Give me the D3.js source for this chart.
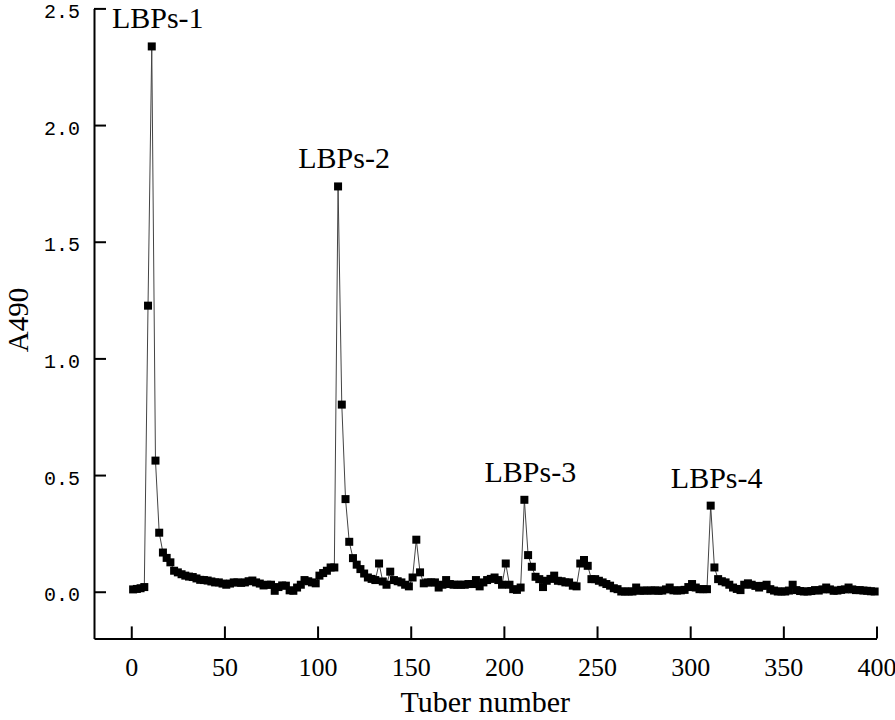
<!DOCTYPE html>
<html>
<head>
<meta charset="utf-8">
<script src="https://cdn.jsdelivr.net/npm/d3@7"></script>
<style>
	body { margin: 0; background: #fff; }
	svg { display: block; }
</style>
</head>
<body>
<div id="chart"></div>
<script>
(function() {

// tube numbers (x) and A490 readings (y)
const tubes = [
	1, 3, 5, 7, 9, 11, 13, 15, 17, 19, 21, 23, 25, 27, 29, 31, 33, 35, 37, 39,
	41, 43, 45, 47, 49, 51, 53, 55, 57, 59, 61, 63, 65, 67, 69, 71, 73, 75, 77, 79,
	81, 83, 85, 87, 89, 91, 93, 95, 97, 99, 101, 103, 105, 107, 109, 111, 113, 115, 117, 119,
	121, 123, 125, 127, 129, 131, 133, 135, 137, 139, 141, 143, 145, 147, 149, 151, 153, 155, 157, 159,
	161, 163, 165, 167, 169, 171, 173, 175, 177, 179, 181, 183, 185, 187, 189, 191, 193, 195, 197, 199,
	201, 203, 205, 207, 209, 211, 213, 215, 217, 219, 221, 223, 225, 227, 229, 231, 233, 235, 237, 239,
	241, 243, 245, 247, 249, 251, 253, 255, 257, 259, 261, 263, 265, 267, 269, 271, 273, 275, 277, 279,
	281, 283, 285, 287, 289, 291, 293, 295, 297, 299, 301, 303, 305, 307, 309, 311, 313, 315, 317, 319,
	321, 323, 325, 327, 329, 331, 333, 335, 337, 339, 341, 343, 345, 347, 349, 351, 353, 355, 357, 359,
	361, 363, 365, 367, 369, 371, 373, 375, 377, 379, 381, 383, 385, 387, 389, 391, 393, 395, 397, 399
];

const a490 = [
	0.010, 0.012, 0.015, 0.020, 1.226, 2.337, 0.562, 0.253, 0.168, 0.145, 0.126, 0.090, 0.083, 0.075, 0.069, 0.065, 0.063, 0.057, 0.051, 0.050,
	0.048, 0.044, 0.040, 0.040, 0.035, 0.030, 0.035, 0.040, 0.040, 0.038, 0.040, 0.045, 0.048, 0.040, 0.035, 0.027, 0.030, 0.030, 0.004, 0.020,
	0.027, 0.026, 0.006, 0.004, 0.018, 0.030, 0.050, 0.045, 0.040, 0.036, 0.069, 0.080, 0.090, 0.104, 0.104, 1.737, 0.802, 0.397, 0.214, 0.144,
	0.116, 0.097, 0.078, 0.061, 0.055, 0.050, 0.121, 0.044, 0.030, 0.086, 0.050, 0.045, 0.040, 0.030, 0.023, 0.061, 0.223, 0.083, 0.036, 0.040,
	0.040, 0.040, 0.018, 0.030, 0.050, 0.033, 0.030, 0.030, 0.030, 0.030, 0.033, 0.033, 0.050, 0.023, 0.040, 0.050, 0.055, 0.061, 0.050, 0.030,
	0.121, 0.030, 0.011, 0.008, 0.018, 0.394, 0.157, 0.107, 0.064, 0.054, 0.020, 0.047, 0.055, 0.069, 0.047, 0.045, 0.040, 0.040, 0.026, 0.023,
	0.121, 0.136, 0.111, 0.054, 0.054, 0.047, 0.040, 0.033, 0.026, 0.015, 0.011, 0.001, 0.001, 0.001, 0.001, 0.018, 0.004, 0.005, 0.005, 0.005,
	0.006, 0.004, 0.005, 0.010, 0.018, 0.006, 0.005, 0.006, 0.008, 0.020, 0.033, 0.018, 0.011, 0.011, 0.011, 0.369, 0.104, 0.054, 0.045, 0.040,
	0.030, 0.018, 0.012, 0.007, 0.030, 0.036, 0.030, 0.025, 0.018, 0.025, 0.030, 0.011, 0.005, 0.001, 0.001, 0.001, 0.005, 0.030, 0.007, 0.003,
	0.001, 0.001, 0.003, 0.007, 0.005, 0.010, 0.018, 0.010, 0.004, 0.005, 0.008, 0.010, 0.018, 0.010, 0.007, 0.007, 0.005, 0.004, 0.002, 0.001
];

// peak annotations
const peakNames = ["LBPs-1", "LBPs-2", "LBPs-3", "LBPs-4"];
const peakTubes = [11, 111, 211, 311];

const xTicks = [0, 50, 100, 150, 200, 250, 300, 350, 400];
const yTicks = [0, 0.5, 1.0, 1.5, 2.0, 2.5];

var width = 895, height = 720;
var margin = {top: 8.4, right: 18.5, bottom: 81.6, left: 94};

const svg = d3.select("div#chart").append("svg")
	.attr("width", width)
	.attr("height", height);

const x = d3.scaleLinear()
	.domain([-20, 400])
	.range([margin.left, width - margin.right]);

const y = d3.scaleLinear()
	.domain([-0.2, 2.5])
	.range([height - margin.bottom, margin.top]);

var data = tubes.map(function(t, i) { return {tube: t, value: a490[i]}; });

// x axis, ticks pointing inward
const xAxis = svg.append("g")
	.attr("transform", "translate(0," + (height - margin.bottom) + ")")
	.call(d3.axisBottom(x).tickValues(xTicks).tickSize(-12).tickSizeOuter(0).tickPadding(19.5));

xAxis.select(".domain").attr("stroke-width", 2);
xAxis.selectAll(".tick line").attr("stroke-width", 2);
xAxis.selectAll(".tick text")
	.attr("font-family", "'Liberation Serif', 'Times New Roman', serif")
	.attr("font-size", "26px")
	.attr("fill", "#000");

// y axis
const yAxis = svg.append("g")
	.attr("transform", "translate(" + margin.left + ",0)")
	.call(d3.axisLeft(y).tickValues(yTicks).tickSize(-12).tickSizeOuter(0).tickPadding(14).tickFormat(d3.format(".1f")));

yAxis.select(".domain").attr("stroke-width", 2);
yAxis.selectAll(".tick line").attr("stroke-width", 2);
yAxis.selectAll(".tick text")
	.attr("dy", "0.45em")
	.attr("font-family", "'Liberation Mono', 'Courier New', monospace")
	.attr("font-size", "20px")
	.attr("fill", "#000");

// connecting line
const line = d3.line()
	.x(function(d) { return x(d.tube); })
	.y(function(d) { return y(d.value); });

svg.append("path")
	.datum(data)
	.attr("fill", "none")
	.attr("stroke", "#444")
	.attr("stroke-width", 1)
	.attr("d", line);

// square markers
var s = 8;
svg.selectAll("rect.pt")
	.data(data)
	.enter().append("rect")
	.attr("class", "pt")
	.attr("x", function(d) { return x(d.tube) - s / 2; })
	.attr("y", function(d) { return y(d.value) - s / 2; })
	.attr("width", s)
	.attr("height", s)
	.attr("fill", "#000");

// peak labels above each peak
svg.selectAll("text.peak")
	.data(peakNames)
	.enter().append("text")
	.attr("class", "peak")
	.attr("x", function(d, i) { return x(peakTubes[i]) + 6; })
	.attr("y", function(d, i) { return y(a490[tubes.indexOf(peakTubes[i])]) - 18; })
	.attr("text-anchor", "middle")
	.attr("font-family", "'Liberation Serif', 'Times New Roman', serif")
	.attr("font-size", "30px")
	.text(function(d) { return d; });

// axis titles
svg.append("text")
	.attr("x", (margin.left + width - margin.right) / 2)
	.attr("y", 712)
	.attr("text-anchor", "middle")
	.attr("font-family", "'Liberation Serif', 'Times New Roman', serif")
	.attr("font-size", "30px")
	.text("Tuber number");

svg.append("text")
	.attr("transform", "translate(28,320) rotate(-90)")
	.attr("text-anchor", "middle")
	.attr("font-family", "'Liberation Serif', 'Times New Roman', serif")
	.attr("font-size", "29px")
	.text("A490");

})();
</script>
</body>
</html>
